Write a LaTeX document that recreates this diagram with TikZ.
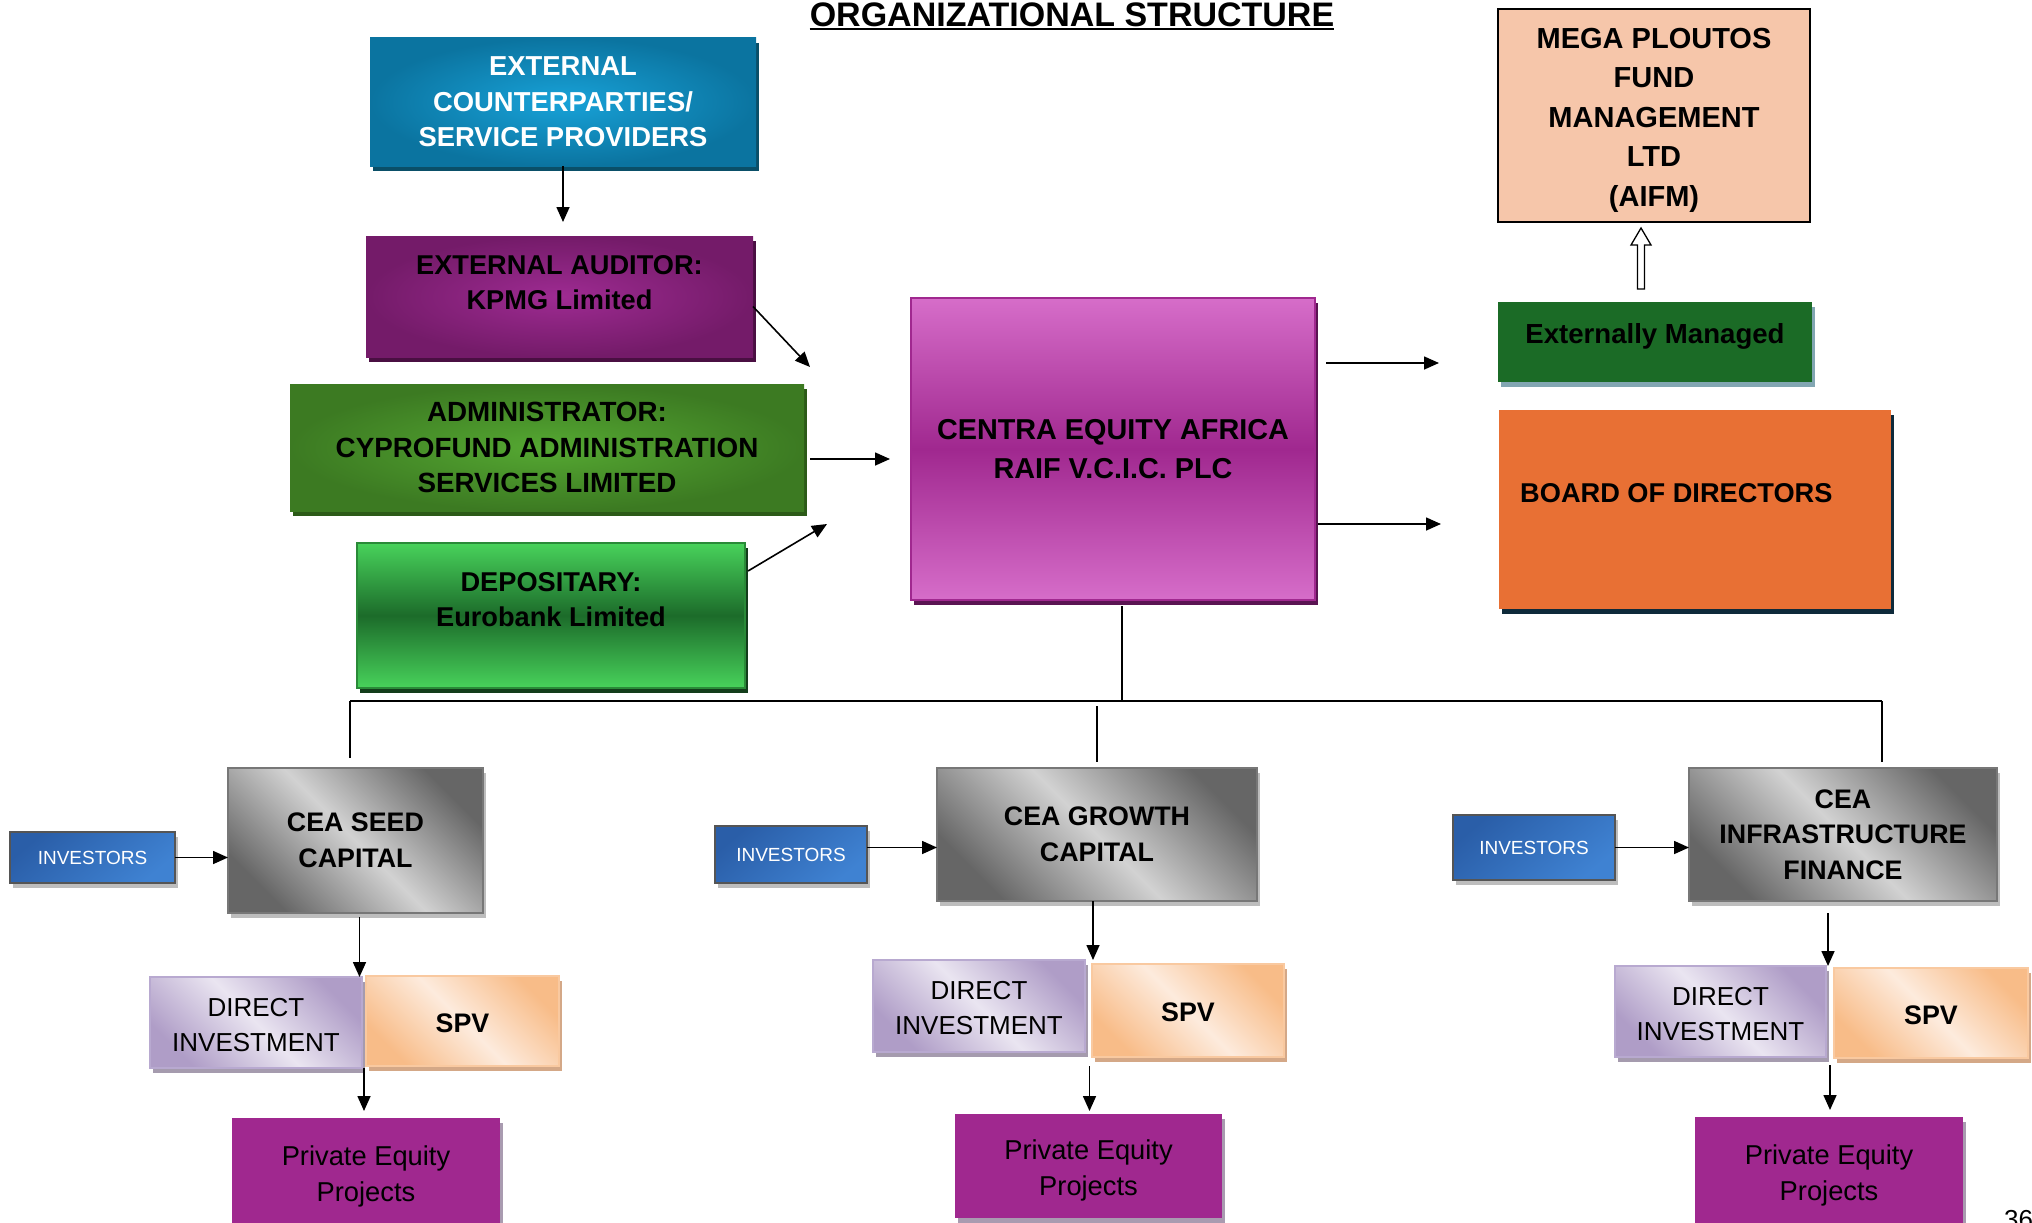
\documentclass[tikz,border=0pt]{standalone}
\usepackage{fontspec}
\setmainfont{Liberation Sans}
\usetikzlibrary{arrows.meta,shadows,calc}
\definecolor{ecpO}{HTML}{0B74A0}
\definecolor{ecpI}{HTML}{18A2D8}
\definecolor{ecpS}{HTML}{0A4F68}
\definecolor{kpO}{HTML}{741B69}
\definecolor{kpI}{HTML}{9E2B92}
\definecolor{kpS}{HTML}{4A0F42}
\definecolor{adO}{HTML}{3C7A22}
\definecolor{adI}{HTML}{55A832}
\definecolor{adS}{HTML}{2C5A18}
\definecolor{dpL}{HTML}{48D25B}
\definecolor{dpD}{HTML}{1C6B2A}
\definecolor{dpS}{HTML}{133D1B}
\definecolor{dpB}{HTML}{2A8A38}
\definecolor{mnL}{HTML}{D66DC9}
\definecolor{mnD}{HTML}{A0288F}
\definecolor{mnS}{HTML}{5A1452}
\definecolor{megaF}{HTML}{F6C6AA}
\definecolor{emF}{HTML}{1B6B26}
\definecolor{emS}{HTML}{82A6B2}
\definecolor{bdF}{HTML}{E87034}
\definecolor{bdS}{HTML}{0E2A3A}
\definecolor{gyD}{HTML}{666666}
\definecolor{gyL}{HTML}{D2D2D2}
\definecolor{gyB}{HTML}{777777}
\definecolor{gyS}{HTML}{BDBDBD}
\definecolor{ivD}{HTML}{2A5EA8}
\definecolor{ivL}{HTML}{3F82D2}
\definecolor{ivB}{HTML}{555555}
\definecolor{diD}{HTML}{AF9DC7}
\definecolor{diL}{HTML}{EAE5F1}
\definecolor{diB}{HTML}{B8A9D0}
\definecolor{diS}{HTML}{A59BAE}
\definecolor{spD}{HTML}{F8BC88}
\definecolor{spL}{HTML}{FDEBDD}
\definecolor{spB}{HTML}{F9C9A0}
\definecolor{spS}{HTML}{D4A887}
\definecolor{peF}{HTML}{A0288F}
\definecolor{peS}{HTML}{A99BB0}
\tikzset{
  bx/.style={rectangle, inner sep=0pt, outer sep=0pt, anchor=north west, align=center,
    font=\bfseries\fontsize{26.8}{35.5}\selectfont},
  shad/.style={drop shadow={shadow xshift=3pt, shadow yshift=-5pt, fill=#1, opacity=1}},
  txt/.style={inner sep=0pt, align=center, font=\bfseries\fontsize{26.8}{35.5}\selectfont},
  arr/.style={-{Triangle[length=15pt,width=13pt]}, line width=1.6pt},
  ln/.style={line width=1.8pt},
  graybox/.style={bx, shad=gyS, draw=gyB, line width=2pt, top color=gyD, bottom color=gyD, middle color=gyL, shading angle=-45},
  invbox/.style={bx, shad=gyS, draw=ivB, line width=2pt, top color=ivD, bottom color=ivL, shading angle=40,
    text=white, font=\fontsize{19}{22}\selectfont},
  dibox/.style={bx, shad=diS, draw=diB, line width=2pt, top color=diD, bottom color=diD, middle color=diL, shading angle=-45},
  spvbox/.style={bx, shad=spS, draw=spB, line width=2pt, top color=spD, bottom color=spD, middle color=spL, shading angle=-45},
  pebox/.style={bx, shad=peS, fill=peF},
  ditxt/.style={txt, font=\fontsize{26}{35}\selectfont},
  petxt/.style={txt, font=\fontsize{27.3}{36}\selectfont},
}
\begin{document}
\begin{tikzpicture}[x=1pt,y=-1pt]
\useasboundingbox (0,0) rectangle (2032,1223);
\clip (0,0) rectangle (2032,1223);

% title
\node[inner sep=0pt, anchor=base, font=\bfseries\fontsize{34}{40}\selectfont] (title) at (1072,26.5) {ORGANIZATIONAL STRUCTURE};
\draw[line width=2pt] ([yshift=-3pt]title.base west) -- ([yshift=-3pt]title.base east);

% top-left column
\node[bx, shad=ecpS, inner color=ecpI, outer color=ecpO, text=white, minimum width=386pt, minimum height=128pt,
  font=\bfseries\fontsize{27.4}{35.5}\selectfont] (ecp) at (370,38)
  {EXTERNAL\\COUNTERPARTIES/\\SERVICE PROVIDERS};
\node[bx, shad=kpS, inner color=kpI, outer color=kpO, minimum width=387pt, minimum height=121pt] (kpmg) at (366,236) {};
\node[txt, font=\bfseries\fontsize{27.2}{35.5}\selectfont] (kpmgt) at (559.5,282.5) {EXTERNAL AUDITOR:\\KPMG Limited};
\node[bx, shad=adS, inner color=adI, outer color=adO, minimum width=514pt, minimum height=127pt,
  font=\bfseries\fontsize{27.8}{35.5}\selectfont] (adm) at (290,384)
  {ADMINISTRATOR:\\CYPROFUND ADMINISTRATION\\SERVICES LIMITED};
\node[bx, shad=dpS, draw=dpB, line width=1.5pt, top color=dpL, bottom color=dpL, middle color=dpD, minimum width=388pt, minimum height=145pt] (dep) at (357,543) {};
\node[txt, font=\bfseries\fontsize{27.2}{35.5}\selectfont] (dept) at (551,599.5) {DEPOSITARY:\\Eurobank Limited};

% main box
\node[bx, shad=mnS, draw=mnD, line width=2.5pt, top color=mnL, bottom color=mnL, middle color=mnD,
  minimum width=404pt, minimum height=302pt, font=\bfseries\fontsize{28.8}{39}\selectfont] (main) at (911,298)
  {CENTRA EQUITY AFRICA\\RAIF V.C.I.C. PLC};

% right column
\node[bx, fill=megaF, draw=black, line width=1.5pt, minimum width=312pt, minimum height=213pt] (mega) at (1498,9) {};
\node[txt, font=\bfseries\fontsize{29}{39.5}\selectfont] (megat) at (1654,120) {MEGA PLOUTOS\\FUND\\MANAGEMENT\\LTD\\(AIFM)};
\node[bx, shad=emS, fill=emF, minimum width=314pt, minimum height=80pt] (em) at (1498,302) {};
\node[txt, font=\bfseries\fontsize{27.6}{32}\selectfont] (emt) at (1655,336) {Externally Managed};
\node[bx, shad=bdS, fill=bdF, minimum width=392pt, minimum height=199pt] (board) at (1499,410) {};
\node[txt, anchor=west, font=\bfseries\fontsize{27.2}{32}\selectfont] (boardt) at (1520,493) {BOARD OF DIRECTORS};

% hollow arrow up
\coordinate (hb) at (1641,289);
\coordinate (ht) at (1641,228);
\draw[line width=1.3pt, fill=white] (1637.5,289) -- (1637.5,245) -- (1631,245) -- (ht) -- (1651,245) -- (1644.5,245) -- (1644.5,289) -- cycle;

% arrows top-left
\draw[arr, shorten >=14pt] (ecp.south) -- (ecp.south |- kpmg.north);
\coordinate (k2m) at (810,367);
\draw[arr] ([yshift=-10pt]kpmg.east) -- (k2m);
\coordinate (a2m) at (890,459);
\draw[arr, shorten <=6pt] ([yshift=-11.5pt]adm.east) -- (a2m);
\coordinate (d2m) at (827,524);
\draw[arr] ([xshift=3pt,yshift=-28pt]dep.north east) -- (d2m);

% arrows right
\coordinate (m2e) at (1439,363);
\draw[arr] ([xshift=11pt,yshift=-65pt]main.north east) -- (m2e);
\coordinate (m2b) at (1441,524);
\draw[arr] ([xshift=3pt,yshift=-75pt]main.east) -- (m2b);

% bus
\coordinate (bus) at (1122,701);
\coordinate (bl) at (350,701);
\coordinate (br) at (1882,701);
\draw[ln, shorten <=6pt] (main.south -| bus) -- (bus);
\draw[ln] (bl) -- (br);

% bottom boxes
\node[graybox, minimum width=255pt, minimum height=145pt] (seed) at (228,768) {CEA SEED\\CAPITAL};
\node[graybox, minimum width=320pt, minimum height=133pt] (growth) at (937,768) {CEA GROWTH\\CAPITAL};
\node[graybox, minimum width=308pt, minimum height=133pt] (infra) at (1689,768) {CEA\\INFRASTRUCTURE\\FINANCE};

\node[invbox, minimum width=165pt, minimum height=51pt] (inv1) at (10,832) {INVESTORS};
\node[invbox, minimum width=152pt, minimum height=57pt] (inv2) at (715,826) {INVESTORS};
\node[invbox, minimum width=162pt, minimum height=65pt] (inv3) at (1453,815) {INVESTORS};

\node[dibox, minimum width=212pt, minimum height=91pt] (di1) at (150,977) {};
\node[ditxt] (di1t) at ($(di1.center)+(0,2.5)$) {DIRECT\\INVESTMENT};
\node[spvbox, minimum width=193pt, minimum height=90pt] (spv1) at (366,976) {};
\node[txt] (spv1t) at ($(spv1.center)+(0,2)$) {SPV};
\node[dibox, minimum width=212pt, minimum height=92pt] (di2) at (873,960) {};
\node[ditxt] (di2t) at ($(di2.center)+(0,2.5)$) {DIRECT\\INVESTMENT};
\node[spvbox, minimum width=192pt, minimum height=93pt] (spv2) at (1092,964) {};
\node[txt] (spv2t) at ($(spv2.center)+(0,2)$) {SPV};
\node[dibox, minimum width=211pt, minimum height=91pt] (di3) at (1615,966) {};
\node[ditxt] (di3t) at ($(di3.center)+(0,2.5)$) {DIRECT\\INVESTMENT};
\node[spvbox, minimum width=194pt, minimum height=90pt] (spv3) at (1834,968) {};
\node[txt] (spv3t) at ($(spv3.center)+(0,2)$) {SPV};

\node[pebox, minimum width=268pt, minimum height=110pt] (pe1) at (232,1118) {};
\node[petxt] (pe1t) at ($(pe1.center)+(0,3)$) {Private Equity\\Projects};
\node[pebox, minimum width=267pt, minimum height=104pt] (pe2) at (955,1114) {};
\node[petxt] (pe2t) at ($(pe2.center)+(0,4)$) {Private Equity\\Projects};
\node[pebox, minimum width=268pt, minimum height=110pt] (pe3) at (1695,1117) {};
\node[petxt] (pe3t) at ($(pe3.center)+(0,3)$) {Private Equity\\Projects};

% drops from bus
\draw[ln, shorten >=10pt] (bl) -- (bl |- seed.north);
\draw[ln, shorten <=5pt, shorten >=6pt] (growth.north |- bus) -- (growth.north);
\draw[ln, shorten >=6pt] (br) -- (br |- infra.north);

% investors arrows
\draw[arr] (inv1.east) -- (inv1.east -| seed.west);
\draw[arr] ([yshift=7pt]inv2.east) coordinate (i2s) -- (i2s -| growth.west);
\draw[arr] (inv3.east) -- (inv3.east -| infra.west);

% fund to direct investment / SPV
\draw[arr, shorten <=4pt] ([xshift=4pt]seed.south) -- ([xshift=4pt]seed.south |- di1.north);
\draw[arr] ([xshift=-4pt]growth.south) -- ([xshift=-4pt]growth.south |- di2.north);
\draw[arr, shorten <=12pt] ([xshift=-15pt]infra.south) -- ([xshift=-15pt]infra.south |- di3.north);

% to private equity projects
\draw[arr, shorten >=7pt] ([xshift=-2pt]pe1.north |- di1.south) -- ([xshift=-2pt]pe1.north);
\draw[arr, shorten <=14pt, shorten >=3pt] ([xshift=1pt]pe2.north |- di2.south) -- ([xshift=1pt]pe2.north);
\draw[arr, shorten <=8pt, shorten >=7pt] ([xshift=1pt]pe3.north |- di3.south) -- ([xshift=1pt]pe3.north);

% page number (cut off)
\node[inner sep=0pt, anchor=north west, font=\fontsize{26}{30}\selectfont] (pg) at (2004,1210) {36};
\end{tikzpicture}
\end{document}
